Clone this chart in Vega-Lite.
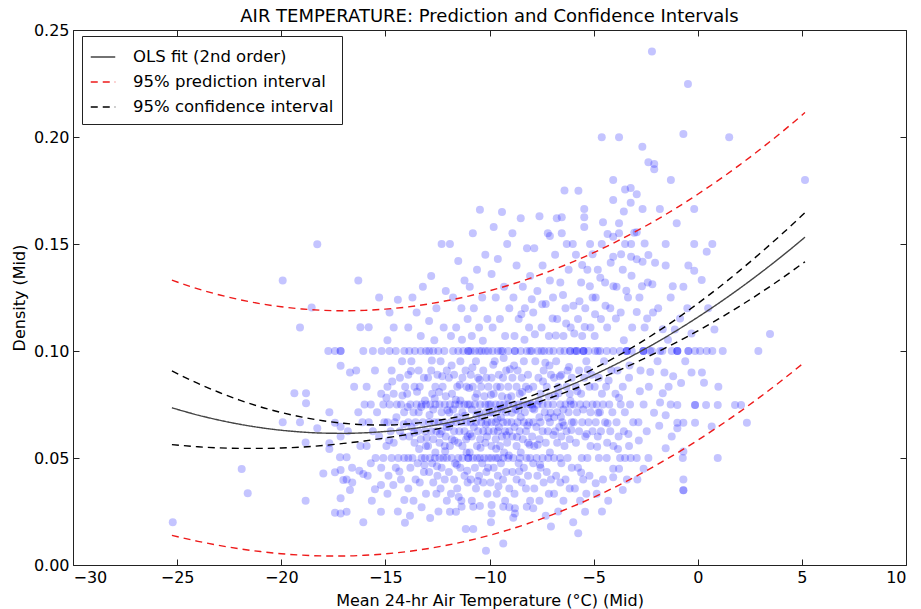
{
  "$schema": "https://vega.github.io/schema/vega-lite/v6.json",
  "width": 833,
  "height": 535,
  "autosize": "none",
  "padding": {"left": 73, "top": 30, "right": 15, "bottom": 44},
  "background": "white",
  "title": {"text": "AIR TEMPERATURE: Prediction and Confidence Intervals", "fontSize": 18, "fontWeight": "normal", "font": "DejaVu Sans", "color": "black", "offset": -4},
  "config": {
    "view": {"stroke": "#222222", "strokeWidth": 1},
    "axis": {"labelFont": "DejaVu Sans", "titleFont": "DejaVu Sans", "labelFontSize": 16, "titleFontSize": 16, "titleFontWeight": "normal", "labelColor": "black", "titleColor": "black", "tickColor": "#222222", "domain": false, "grid": false, "tickSize": -6, "labelPadding": 10}
  },
  "datasets": {
    "pts": [
      {"x":-25.21,"y":0.020},{"x":-21.9,"y":0.0449},{"x":-21.61,"y":0.0335},{"x":-19.93,"y":0.133},{"x":-19.1,"y":0.111},{"x":-18.27,"y":0.1499},{"x":-18.54,"y":0.1203},{"x":-19.37,"y":0.0802},{"x":-18.81,"y":0.0802},{"x":-18.81,"y":0.0756},{"x":-17.74,"y":0.1},{"x":-17.42,"y":0.1},{"x":-17.15,"y":0.1},{"x":-17.15,"y":0.1},{"x":-17.15,"y":0.0931},{"x":-16.7,"y":0.090},{"x":-17.69,"y":0.0714},{"x":-19.93,"y":0.0667},{"x":-19.1,"y":0.0667},{"x":-18.27,"y":0.0639},{"x":-17.15,"y":0.0646},{"x":-17.42,"y":0.0665},{"x":-17.15,"y":0.060},{"x":-18.83,"y":0.0573},{"x":-17.69,"y":0.0569},{"x":-17.69,"y":0.0542},{"x":-17.18,"y":0.0503},{"x":-16.86,"y":0.0503},{"x":-18.83,"y":0.030},{"x":-17.98,"y":0.0428},{"x":-17.42,"y":0.0433},{"x":-17.15,"y":0.0444},{"x":-16.86,"y":0.040},{"x":-17.15,"y":0.0312},{"x":-17.42,"y":0.0244},{"x":-17.15,"y":0.0241},{"x":-16.86,"y":0.0249},{"x":-17.02,"y":0.0397},{"x":-16.59,"y":0.0386},{"x":-16.25,"y":0.0441},{"x":-16.06,"y":0.0425},{"x":-16.06,"y":0.020},{"x":-15.5,"y":0.0354},{"x":-16.06,"y":0.1},{"x":-16.3,"y":0.133},
      {"x":-16.5,"y":0.0833},{"x":-16.3,"y":0.0714},{"x":-16.8,"y":0.0625},{"x":-16.2,"y":0.0556},{"x":-16.1,"y":0.0667},{"x":-16.6,"y":0.0455},{"x":-16.4,"y":0.0909},{"x":-16.7,"y":0.035},{"x":-16.0,"y":0.075},{"x":-16.2,"y":0.1111},
      {"x":-15.18,"y":0.1},{"x":-15.6,"y":0.1},{"x":-15.3,"y":0.125},{"x":-15.8,"y":0.1111},{"x":-15.5,"y":0.0909},{"x":-15.9,"y":0.0833},{"x":-15.2,"y":0.08},{"x":-15.7,"y":0.075},{"x":-15.1,"y":0.075},{"x":-15.4,"y":0.0714},{"x":-15.8,"y":0.0667},{"x":-15.05,"y":0.0667},{"x":-15.6,"y":0.0625},{"x":-15.3,"y":0.06},{"x":-15.9,"y":0.0556},{"x":-15.47,"y":0.05},{"x":-15.1,"y":0.05},{"x":-15.7,"y":0.0476},{"x":-15.2,"y":0.0455},{"x":-15.85,"y":0.0417},{"x":-15.21,"y":0.0374},{"x":-15.21,"y":0.0249},{"x":-15.65,"y":0.03},
      {"x":-14.4,"y":0.124},{"x":-14.8,"y":0.118},{"x":-14.6,"y":0.111},{"x":-14.9,"y":0.105},{"x":-14.09,"y":0.1},{"x":-14.5,"y":0.1},{"x":-14.8,"y":0.1},{"x":-14.2,"y":0.0952},{"x":-14.7,"y":0.0909},{"x":-14.3,"y":0.0875},{"x":-14.9,"y":0.0833},{"x":-14.05,"y":0.0833},{"x":-14.6,"y":0.08},{"x":-14.8,"y":0.075},{"x":-14.25,"y":0.075},{"x":-14.45,"y":0.075},{"x":-14.1,"y":0.0714},{"x":-14.9,"y":0.0667},{"x":-14.55,"y":0.0667},{"x":-14.3,"y":0.0625},{"x":-14.75,"y":0.0625},{"x":-14.15,"y":0.06},{"x":-14.6,"y":0.0571},{"x":-14.95,"y":0.0556},{"x":-14.38,"y":0.05},{"x":-14.7,"y":0.05},{"x":-14.1,"y":0.05},{"x":-14.5,"y":0.0455},{"x":-14.85,"y":0.0417},{"x":-14.25,"y":0.04},{"x":-14.62,"y":0.0374},{"x":-14.9,"y":0.0333},{"x":-14.09,"y":0.0304},{"x":-14.06,"y":0.0198},{"x":-14.4,"y":0.025},
      {"x":-13.2,"y":0.13},{"x":-13.7,"y":0.125},{"x":-13.5,"y":0.118},{"x":-13.9,"y":0.111},{"x":-13.3,"y":0.107},{"x":-13.85,"y":0.1},{"x":-13.58,"y":0.1},{"x":-13.3,"y":0.1},{"x":-13.05,"y":0.1},{"x":-13.75,"y":0.0952},{"x":-13.4,"y":0.0909},{"x":-13.9,"y":0.0889},{"x":-13.15,"y":0.0875},{"x":-13.6,"y":0.0833},{"x":-13.35,"y":0.0833},{"x":-13.95,"y":0.08},{"x":-13.1,"y":0.0769},{"x":-13.8,"y":0.075},{"x":-13.5,"y":0.075},{"x":-13.25,"y":0.075},{"x":-13.05,"y":0.075},{"x":-13.65,"y":0.0714},{"x":-13.4,"y":0.0714},{"x":-13.9,"y":0.0667},{"x":-13.55,"y":0.0667},{"x":-13.2,"y":0.0667},{"x":-13.75,"y":0.0645},{"x":-13.45,"y":0.0625},{"x":-13.1,"y":0.0625},{"x":-13.85,"y":0.06},{"x":-13.3,"y":0.0588},{"x":-13.6,"y":0.0571},{"x":-13.05,"y":0.0556},{"x":-13.26,"y":0.05},{"x":-13.1,"y":0.05},{"x":-13.7,"y":0.05},{"x":-13.9,"y":0.05},{"x":-13.45,"y":0.0476},{"x":-13.8,"y":0.0455},{"x":-13.15,"y":0.0435},{"x":-13.55,"y":0.04},{"x":-13.35,"y":0.0385},{"x":-13.9,"y":0.0357},{"x":-13.05,"y":0.0333},{"x":-13.65,"y":0.03},{"x":-13.26,"y":0.027},{"x":-13.82,"y":0.023},
      {"x":-12.3,"y":0.15},{"x":-12.8,"y":0.135},{"x":-12.1,"y":0.128},{"x":-12.55,"y":0.12},{"x":-12.9,"y":0.114},{"x":-12.2,"y":0.111},{"x":-12.65,"y":0.105},{"x":-12.7,"y":0.1},{"x":-12.46,"y":0.1},{"x":-12.17,"y":0.1},{"x":-12.9,"y":0.1},{"x":-12.35,"y":0.0952},{"x":-12.8,"y":0.0909},{"x":-12.05,"y":0.0909},{"x":-12.5,"y":0.0889},{"x":-12.95,"y":0.0875},{"x":-12.6,"y":0.0833},{"x":-12.25,"y":0.0833},{"x":-12.75,"y":0.08},{"x":-12.1,"y":0.0789},{"x":-12.85,"y":0.075},{"x":-12.6,"y":0.075},{"x":-12.4,"y":0.075},{"x":-12.15,"y":0.075},{"x":-12.7,"y":0.0727},{"x":-12.3,"y":0.0714},{"x":-12.9,"y":0.0667},{"x":-12.65,"y":0.0667},{"x":-12.45,"y":0.0667},{"x":-12.2,"y":0.0667},{"x":-12.05,"y":0.0645},{"x":-12.8,"y":0.0625},{"x":-12.55,"y":0.0625},{"x":-12.3,"y":0.0625},{"x":-12.1,"y":0.06},{"x":-12.7,"y":0.0588},{"x":-12.4,"y":0.0571},{"x":-12.95,"y":0.0556},{"x":-12.15,"y":0.0556},{"x":-12.6,"y":0.0526},{"x":-12.86,"y":0.05},{"x":-12.62,"y":0.05},{"x":-12.22,"y":0.05},{"x":-12.4,"y":0.05},{"x":-12.05,"y":0.05},{"x":-12.75,"y":0.0476},{"x":-12.3,"y":0.0455},{"x":-12.9,"y":0.0435},{"x":-12.5,"y":0.0417},{"x":-12.15,"y":0.04},{"x":-12.7,"y":0.0385},{"x":-12.35,"y":0.0357},{"x":-12.55,"y":0.0333},{"x":-12.05,"y":0.03},{"x":-12.45,"y":0.025},{"x":-12.85,"y":0.022},
      {"x":-11.9,"y":0.15},{"x":-11.5,"y":0.142},{"x":-11.2,"y":0.133},{"x":-11.75,"y":0.125},{"x":-11.35,"y":0.12},{"x":-11.05,"y":0.115},{"x":-11.6,"y":0.111},{"x":-11.85,"y":0.107},{"x":-11.26,"y":0.1},{"x":-11.02,"y":0.1},{"x":-11.02,"y":0.1},{"x":-11.5,"y":0.1},{"x":-11.75,"y":0.1},{"x":-11.4,"y":0.0952},{"x":-11.15,"y":0.0909},{"x":-11.7,"y":0.0889},{"x":-11.3,"y":0.0875},{"x":-11.95,"y":0.0875},{"x":-11.55,"y":0.0833},{"x":-11.1,"y":0.0833},{"x":-11.8,"y":0.08},{"x":-11.4,"y":0.0769},{"x":-11.9,"y":0.075},{"x":-11.65,"y":0.075},{"x":-11.45,"y":0.075},{"x":-11.2,"y":0.075},{"x":-11.05,"y":0.075},{"x":-11.75,"y":0.0727},{"x":-11.3,"y":0.0714},{"x":-11.55,"y":0.069},{"x":-11.85,"y":0.0667},{"x":-11.6,"y":0.0667},{"x":-11.35,"y":0.0667},{"x":-11.1,"y":0.0667},{"x":-11.95,"y":0.0645},{"x":-11.7,"y":0.0625},{"x":-11.45,"y":0.0625},{"x":-11.2,"y":0.0625},{"x":-11.05,"y":0.06},{"x":-11.8,"y":0.0588},{"x":-11.5,"y":0.0571},{"x":-11.3,"y":0.0556},{"x":-11.9,"y":0.0556},{"x":-11.1,"y":0.0526},{"x":-11.82,"y":0.05},{"x":-11.02,"y":0.05},{"x":-11.02,"y":0.05},{"x":-11.5,"y":0.05},{"x":-11.3,"y":0.05},{"x":-11.65,"y":0.0476},{"x":-11.4,"y":0.0455},{"x":-11.95,"y":0.0435},{"x":-11.2,"y":0.0417},{"x":-11.7,"y":0.04},{"x":-11.05,"y":0.0385},{"x":-11.55,"y":0.0357},{"x":-11.85,"y":0.0333},{"x":-11.35,"y":0.03},{"x":-11.34,"y":0.0272},{"x":-11.9,"y":0.0249},{"x":-11.61,"y":0.0249},{"x":-11.14,"y":0.0168},
      {"x":-10.46,"y":0.166},{"x":-10.8,"y":0.155},{"x":-10.2,"y":0.145},{"x":-10.6,"y":0.138},{"x":-10.95,"y":0.13},{"x":-10.35,"y":0.125},{"x":-10.75,"y":0.12},{"x":-10.1,"y":0.115},{"x":-10.5,"y":0.111},{"x":-10.85,"y":0.107},{"x":-10.7,"y":0.1},{"x":-10.38,"y":0.1},{"x":-10.06,"y":0.1},{"x":-10.9,"y":0.1},{"x":-10.5,"y":0.1},{"x":-10.2,"y":0.1},{"x":-10.65,"y":0.0952},{"x":-10.3,"y":0.0909},{"x":-10.9,"y":0.0889},{"x":-10.55,"y":0.0875},{"x":-10.15,"y":0.0875},{"x":-10.8,"y":0.0833},{"x":-10.4,"y":0.0833},{"x":-10.05,"y":0.0833},{"x":-10.6,"y":0.08},{"x":-10.25,"y":0.0789},{"x":-10.95,"y":0.075},{"x":-10.7,"y":0.075},{"x":-10.45,"y":0.075},{"x":-10.2,"y":0.075},{"x":-10.05,"y":0.075},{"x":-10.85,"y":0.0727},{"x":-10.5,"y":0.0714},{"x":-10.15,"y":0.0714},{"x":-10.35,"y":0.069},{"x":-10.9,"y":0.0667},{"x":-10.65,"y":0.0667},{"x":-10.4,"y":0.0667},{"x":-10.1,"y":0.0667},{"x":-10.75,"y":0.0645},{"x":-10.55,"y":0.0625},{"x":-10.3,"y":0.0625},{"x":-10.05,"y":0.0625},{"x":-10.85,"y":0.06},{"x":-10.45,"y":0.0588},{"x":-10.2,"y":0.0571},{"x":-10.6,"y":0.0556},{"x":-10.95,"y":0.0526},{"x":-10.46,"y":0.05},{"x":-10.8,"y":0.05},{"x":-10.25,"y":0.05},{"x":-10.05,"y":0.05},{"x":-10.6,"y":0.05},{"x":-10.35,"y":0.0476},{"x":-10.7,"y":0.0455},{"x":-10.15,"y":0.0435},{"x":-10.5,"y":0.0417},{"x":-10.9,"y":0.04},{"x":-10.3,"y":0.0385},{"x":-10.65,"y":0.0357},{"x":-10.1,"y":0.0333},{"x":-10.85,"y":0.03},{"x":-10.46,"y":0.0276},{"x":-10.78,"y":0.0272},{"x":-10.78,"y":0.0168},{"x":-10.17,"y":0.0067},
      {"x":-9.4,"y":0.165},{"x":-9.8,"y":0.158},{"x":-9.15,"y":0.15},{"x":-9.6,"y":0.143},{"x":-9.9,"y":0.136},{"x":-9.3,"y":0.13},{"x":-9.7,"y":0.125},{"x":-9.05,"y":0.12},{"x":-9.5,"y":0.115},{"x":-9.85,"y":0.111},{"x":-9.25,"y":0.107},{"x":-9.85,"y":0.1},{"x":-9.37,"y":0.1},{"x":-9.1,"y":0.1},{"x":-9.6,"y":0.1},{"x":-9.45,"y":0.1},{"x":-9.75,"y":0.0952},{"x":-9.2,"y":0.0909},{"x":-9.55,"y":0.0889},{"x":-9.9,"y":0.0875},{"x":-9.35,"y":0.0875},{"x":-9.65,"y":0.0833},{"x":-9.1,"y":0.0833},{"x":-9.8,"y":0.08},{"x":-9.4,"y":0.0789},{"x":-9.95,"y":0.075},{"x":-9.7,"y":0.075},{"x":-9.5,"y":0.075},{"x":-9.3,"y":0.075},{"x":-9.1,"y":0.075},{"x":-9.6,"y":0.0727},{"x":-9.85,"y":0.0714},{"x":-9.2,"y":0.0714},{"x":-9.45,"y":0.069},{"x":-9.9,"y":0.0667},{"x":-9.7,"y":0.0667},{"x":-9.35,"y":0.0667},{"x":-9.15,"y":0.0667},{"x":-9.55,"y":0.0645},{"x":-9.8,"y":0.0625},{"x":-9.6,"y":0.0625},{"x":-9.25,"y":0.0625},{"x":-9.05,"y":0.0625},{"x":-9.4,"y":0.06},{"x":-9.7,"y":0.0588},{"x":-9.15,"y":0.0571},{"x":-9.9,"y":0.0556},{"x":-9.5,"y":0.0556},{"x":-9.3,"y":0.0526},{"x":-9.9,"y":0.05},{"x":-9.58,"y":0.05},{"x":-9.34,"y":0.05},{"x":-9.1,"y":0.05},{"x":-9.7,"y":0.05},{"x":-9.45,"y":0.0476},{"x":-9.8,"y":0.0455},{"x":-9.2,"y":0.0435},{"x":-9.6,"y":0.0417},{"x":-9.35,"y":0.04},{"x":-9.95,"y":0.0385},{"x":-9.05,"y":0.0357},{"x":-9.65,"y":0.0333},{"x":-9.25,"y":0.03},{"x":-9.9,"y":0.028},{"x":-9.34,"y":0.0272},{"x":-9.05,"y":0.027},{"x":-9.9,"y":0.0241},{"x":-9.93,"y":0.020},{"x":-9.34,"y":0.0101},
      {"x":-8.5,"y":0.162},{"x":-8.9,"y":0.155},{"x":-8.2,"y":0.148},{"x":-8.7,"y":0.14},{"x":-8.05,"y":0.135},{"x":-8.4,"y":0.13},{"x":-8.85,"y":0.125},{"x":-8.3,"y":0.12},{"x":-8.6,"y":0.115},{"x":-8.1,"y":0.111},{"x":-8.8,"y":0.107},{"x":-8.78,"y":0.1},{"x":-8.78,"y":0.1},{"x":-8.5,"y":0.1},{"x":-8.21,"y":0.1},{"x":-8.05,"y":0.1},{"x":-8.35,"y":0.0952},{"x":-8.65,"y":0.0909},{"x":-8.15,"y":0.0889},{"x":-8.9,"y":0.0875},{"x":-8.45,"y":0.0875},{"x":-8.7,"y":0.0833},{"x":-8.25,"y":0.0833},{"x":-8.55,"y":0.08},{"x":-8.95,"y":0.0789},{"x":-8.85,"y":0.075},{"x":-8.6,"y":0.075},{"x":-8.4,"y":0.075},{"x":-8.2,"y":0.075},{"x":-8.05,"y":0.075},{"x":-8.75,"y":0.0727},{"x":-8.3,"y":0.0714},{"x":-8.5,"y":0.069},{"x":-8.95,"y":0.0667},{"x":-8.65,"y":0.0667},{"x":-8.35,"y":0.0667},{"x":-8.1,"y":0.0667},{"x":-8.8,"y":0.0645},{"x":-8.55,"y":0.0625},{"x":-8.25,"y":0.0625},{"x":-8.9,"y":0.06},{"x":-8.4,"y":0.0588},{"x":-8.15,"y":0.0571},{"x":-8.7,"y":0.0556},{"x":-8.5,"y":0.0526},{"x":-8.86,"y":0.05},{"x":-8.54,"y":0.05},{"x":-8.22,"y":0.05},{"x":-8.05,"y":0.05},{"x":-8.6,"y":0.0476},{"x":-8.35,"y":0.0455},{"x":-8.9,"y":0.0435},{"x":-8.15,"y":0.0417},{"x":-8.7,"y":0.04},{"x":-8.45,"y":0.0385},{"x":-8.25,"y":0.0357},{"x":-8.8,"y":0.0333},{"x":-8.05,"y":0.03},{"x":-8.21,"y":0.0272},{"x":-8.78,"y":0.0265},{"x":-8.78,"y":0.0241},{"x":-8.86,"y":0.0221},
      {"x":-7.6,"y":0.163},{"x":-7.2,"y":0.155},{"x":-7.85,"y":0.148},{"x":-7.45,"y":0.14},{"x":-7.1,"y":0.133},{"x":-7.7,"y":0.128},{"x":-7.3,"y":0.122},{"x":-7.9,"y":0.118},{"x":-7.5,"y":0.111},{"x":-7.15,"y":0.107},{"x":-7.97,"y":0.1},{"x":-7.68,"y":0.1},{"x":-7.37,"y":0.1},{"x":-7.13,"y":0.1},{"x":-7.5,"y":0.1},{"x":-7.8,"y":0.0952},{"x":-7.4,"y":0.0909},{"x":-7.05,"y":0.0889},{"x":-7.65,"y":0.0875},{"x":-7.9,"y":0.0833},{"x":-7.25,"y":0.0833},{"x":-7.55,"y":0.08},{"x":-7.15,"y":0.0789},{"x":-7.95,"y":0.075},{"x":-7.7,"y":0.075},{"x":-7.45,"y":0.075},{"x":-7.2,"y":0.075},{"x":-7.85,"y":0.0727},{"x":-7.35,"y":0.0714},{"x":-7.6,"y":0.069},{"x":-7.9,"y":0.0667},{"x":-7.55,"y":0.0667},{"x":-7.1,"y":0.0667},{"x":-7.75,"y":0.0645},{"x":-7.45,"y":0.0625},{"x":-7.2,"y":0.0625},{"x":-7.95,"y":0.06},{"x":-7.6,"y":0.0588},{"x":-7.3,"y":0.0571},{"x":-7.85,"y":0.0556},{"x":-7.1,"y":0.0526},{"x":-7.74,"y":0.05},{"x":-7.18,"y":0.05},{"x":-7.45,"y":0.05},{"x":-7.9,"y":0.0476},{"x":-7.55,"y":0.0455},{"x":-7.25,"y":0.0435},{"x":-7.7,"y":0.0417},{"x":-7.05,"y":0.04},{"x":-7.4,"y":0.0385},{"x":-7.85,"y":0.0357},{"x":-7.15,"y":0.0333},{"x":-7.6,"y":0.03},{"x":-7.9,"y":0.0265},{"x":-7.3,"y":0.023},{"x":-7.05,"y":0.018},{"x":-7.1,"y":0.1537},
      {"x":-6.4,"y":0.175},{"x":-6.77,"y":0.162},{"x":-6.53,"y":0.1625},{"x":-6.53,"y":0.155},{"x":-6.29,"y":0.15},{"x":-6.0,"y":0.15},{"x":-6.85,"y":0.145},{"x":-6.2,"y":0.138},{"x":-6.6,"y":0.132},{"x":-6.95,"y":0.125},{"x":-6.35,"y":0.12},{"x":-6.75,"y":0.115},{"x":-6.1,"y":0.111},{"x":-6.45,"y":0.107},{"x":-6.93,"y":0.1},{"x":-6.61,"y":0.1},{"x":-6.4,"y":0.1},{"x":-6.13,"y":0.1},{"x":-6.13,"y":0.1},{"x":-6.8,"y":0.0952},{"x":-6.25,"y":0.0909},{"x":-6.55,"y":0.0889},{"x":-6.9,"y":0.0875},{"x":-6.05,"y":0.0875},{"x":-6.7,"y":0.0833},{"x":-6.3,"y":0.0833},{"x":-6.15,"y":0.08},{"x":-6.85,"y":0.0789},{"x":-6.95,"y":0.075},{"x":-6.6,"y":0.075},{"x":-6.35,"y":0.075},{"x":-6.1,"y":0.075},{"x":-6.45,"y":0.0727},{"x":-6.75,"y":0.0714},{"x":-6.2,"y":0.0714},{"x":-6.9,"y":0.069},{"x":-6.5,"y":0.0667},{"x":-6.05,"y":0.0667},{"x":-6.65,"y":0.0645},{"x":-6.85,"y":0.0625},{"x":-6.3,"y":0.0625},{"x":-6.55,"y":0.06},{"x":-6.15,"y":0.0588},{"x":-6.75,"y":0.0571},{"x":-6.4,"y":0.0556},{"x":-6.61,"y":0.05},{"x":-6.9,"y":0.05},{"x":-6.25,"y":0.05},{"x":-6.55,"y":0.0476},{"x":-6.05,"y":0.0455},{"x":-6.8,"y":0.0417},{"x":-6.35,"y":0.04},{"x":-6.6,"y":0.0385},{"x":-6.15,"y":0.0357},{"x":-6.9,"y":0.0333},{"x":-6.45,"y":0.03},{"x":-5.98,"y":0.02},{"x":-6.7,"y":0.025},
      {"x":-5.73,"y":0.1749},{"x":-5.45,"y":0.1664},{"x":-5.45,"y":0.1625},{"x":-5.45,"y":0.158},{"x":-5.17,"y":0.15},{"x":-5.85,"y":0.145},{"x":-5.3,"y":0.138},{"x":-5.6,"y":0.132},{"x":-5.05,"y":0.125},{"x":-5.4,"y":0.12},{"x":-5.75,"y":0.115},{"x":-5.15,"y":0.111},{"x":-5.55,"y":0.107},{"x":-5.81,"y":0.1},{"x":-5.81,"y":0.1},{"x":-5.49,"y":0.1},{"x":-5.49,"y":0.1},{"x":-5.49,"y":0.1},{"x":-5.25,"y":0.1},{"x":-5.9,"y":0.1},{"x":-5.35,"y":0.0952},{"x":-5.7,"y":0.0909},{"x":-5.1,"y":0.0889},{"x":-5.45,"y":0.0875},{"x":-5.85,"y":0.0833},{"x":-5.2,"y":0.0833},{"x":-5.6,"y":0.08},{"x":-5.95,"y":0.075},{"x":-5.65,"y":0.075},{"x":-5.35,"y":0.075},{"x":-5.05,"y":0.075},{"x":-5.5,"y":0.0727},{"x":-5.8,"y":0.0714},{"x":-5.15,"y":0.0714},{"x":-5.95,"y":0.0667},{"x":-5.55,"y":0.0667},{"x":-5.25,"y":0.0667},{"x":-5.7,"y":0.0625},{"x":-5.05,"y":0.0625},{"x":-5.4,"y":0.06},{"x":-5.85,"y":0.0571},{"x":-5.15,"y":0.0556},{"x":-5.57,"y":0.05},{"x":-5.3,"y":0.05},{"x":-5.75,"y":0.0455},{"x":-5.2,"y":0.0417},{"x":-5.5,"y":0.04},{"x":-5.9,"y":0.0357},{"x":-5.35,"y":0.0333},{"x":-5.65,"y":0.03},{"x":-5.41,"y":0.0249},{"x":-5.74,"y":0.0148},
      {"x":-4.61,"y":0.1999},{"x":-4.06,"y":0.1799},{"x":-4.06,"y":0.1706},{"x":-4.33,"y":0.1547},{"x":-4.06,"y":0.1534},{"x":-4.61,"y":0.15},{"x":-4.06,"y":0.1441},{"x":-4.8,"y":0.138},{"x":-4.45,"y":0.132},{"x":-4.9,"y":0.125},{"x":-4.2,"y":0.12},{"x":-4.65,"y":0.115},{"x":-4.35,"y":0.111},{"x":-4.95,"y":0.107},{"x":-4.93,"y":0.1},{"x":-4.69,"y":0.1},{"x":-4.37,"y":0.1},{"x":-4.06,"y":0.1},{"x":-4.8,"y":0.1},{"x":-4.5,"y":0.0952},{"x":-4.15,"y":0.0909},{"x":-4.75,"y":0.0875},{"x":-4.4,"y":0.0833},{"x":-4.95,"y":0.0833},{"x":-4.6,"y":0.08},{"x":-4.85,"y":0.075},{"x":-4.55,"y":0.075},{"x":-4.25,"y":0.075},{"x":-4.7,"y":0.0714},{"x":-4.1,"y":0.0714},{"x":-4.9,"y":0.0667},{"x":-4.45,"y":0.0667},{"x":-4.65,"y":0.0625},{"x":-4.2,"y":0.0625},{"x":-4.8,"y":0.06},{"x":-4.35,"y":0.0571},{"x":-4.05,"y":0.0556},{"x":-4.37,"y":0.05},{"x":-4.75,"y":0.05},{"x":-4.06,"y":0.045},{"x":-4.06,"y":0.041},{"x":-4.55,"y":0.04},{"x":-4.85,"y":0.0333},{"x":-4.3,"y":0.03},{"x":-4.6,"y":0.025},
      {"x":-3.78,"y":0.1999},{"x":-3.49,"y":0.1755},{"x":-3.22,"y":0.1762},{"x":-3.22,"y":0.1693},{"x":-3.78,"y":0.1597},{"x":-3.78,"y":0.155},{"x":-3.49,"y":0.15},{"x":-3.2,"y":0.15},{"x":-3.2,"y":0.1441},{"x":-3.6,"y":0.138},{"x":-3.9,"y":0.13},{"x":-3.35,"y":0.125},{"x":-3.7,"y":0.118},{"x":-3.15,"y":0.111},{"x":-3.55,"y":0.105},{"x":-3.73,"y":0.1},{"x":-3.41,"y":0.1},{"x":-3.41,"y":0.1},{"x":-3.41,"y":0.1},{"x":-3.17,"y":0.1},{"x":-3.85,"y":0.0909},{"x":-3.3,"y":0.0875},{"x":-3.6,"y":0.0833},{"x":-3.95,"y":0.08},{"x":-3.7,"y":0.075},{"x":-3.25,"y":0.075},{"x":-3.5,"y":0.0714},{"x":-3.9,"y":0.0667},{"x":-3.1,"y":0.0667},{"x":-3.55,"y":0.0625},{"x":-3.8,"y":0.06},{"x":-3.3,"y":0.0556},{"x":-3.73,"y":0.05},{"x":-3.49,"y":0.05},{"x":-3.22,"y":0.05},{"x":-3.78,"y":0.045},{"x":-3.4,"y":0.04},{"x":-3.6,"y":0.035},
      {"x":-2.2,"y":0.24},{"x":-2.66,"y":0.1955},{"x":-2.37,"y":0.1882},{"x":-2.09,"y":0.1874},{"x":-2.09,"y":0.1849},{"x":-2.93,"y":0.1732},{"x":-2.65,"y":0.1664},{"x":-2.93,"y":0.1555},{"x":-2.37,"y":0.1449},{"x":-2.93,"y":0.1429},{"x":-2.65,"y":0.1417},{"x":-2.4,"y":0.132},{"x":-2.8,"y":0.125},{"x":-2.15,"y":0.118},{"x":-2.55,"y":0.111},{"x":-2.61,"y":0.1},{"x":-2.61,"y":0.1},{"x":-2.61,"y":0.1},{"x":-2.29,"y":0.1},{"x":-2.2,"y":0.1},{"x":-2.75,"y":0.0909},{"x":-2.35,"y":0.0833},{"x":-2.1,"y":0.0712},{"x":-2.6,"y":0.075},{"x":-2.85,"y":0.0667},{"x":-2.45,"y":0.0625},{"x":-2.93,"y":0.05},{"x":-2.37,"y":0.05},{"x":-2.6,"y":0.045},{"x":-2.9,"y":0.04},
      {"x":-1.82,"y":0.1664},{"x":-1.54,"y":0.15},{"x":-1.54,"y":0.1399},{"x":-1.29,"y":0.1799},{"x":-1.01,"y":0.1597},{"x":-1.81,"y":0.1},{"x":-1.25,"y":0.1},{"x":-1.7,"y":0.1},{"x":-1.81,"y":0.0759},{"x":-1.85,"y":0.0651},{"x":-1.54,"y":0.070},{"x":-1.54,"y":0.0545},{"x":-1.25,"y":0.060},{"x":-1.4,"y":0.0833},{"x":-1.6,"y":0.09},{"x":-1.9,"y":0.12},{"x":-1.3,"y":0.125},{"x":-1.1,"y":0.11},{"x":-1.3,"y":0.075},
      {"x":-0.69,"y":0.2014},{"x":-0.47,"y":0.2248},{"x":-0.17,"y":0.1664},{"x":-0.17,"y":0.15},{"x":-0.45,"y":0.1399},{"x":-0.17,"y":0.1375},{"x":-0.69,"y":0.130},{"x":-0.98,"y":0.1},{"x":-0.98,"y":0.1},{"x":-0.98,"y":0.1},{"x":-0.45,"y":0.1},{"x":-0.45,"y":0.1},{"x":-0.13,"y":0.1},{"x":-0.98,"y":0.0748},{"x":-0.13,"y":0.0748},{"x":-0.13,"y":0.0748},{"x":-0.13,"y":0.0665},{"x":-0.69,"y":0.0665},{"x":-0.98,"y":0.0665},{"x":-0.98,"y":0.0639},{"x":-0.69,"y":0.053},{"x":-0.72,"y":0.05},{"x":-0.69,"y":0.040},{"x":-0.69,"y":0.0349},{"x":-0.69,"y":0.0349},{"x":-0.5,"y":0.12},{"x":-0.3,"y":0.09},{"x":-0.8,"y":0.085},
      {"x":0.11,"y":0.1},{"x":0.43,"y":0.1},{"x":0.7,"y":0.1},{"x":0.7,"y":0.15},{"x":0.43,"y":0.1464},{"x":0.19,"y":0.1332},{"x":1.51,"y":0.1999},{"x":5.15,"y":0.1799},{"x":2.91,"y":0.1},{"x":3.47,"y":0.108},{"x":0.96,"y":0.0748},{"x":0.4,"y":0.0748},{"x":1.79,"y":0.0748},{"x":2.08,"y":0.0748},{"x":0.67,"y":0.0647},{"x":0.99,"y":0.0833},{"x":2.36,"y":0.0665},{"x":0.96,"y":0.05},{"x":0.2,"y":0.09},{"x":1.2,"y":0.1},{"x":0.5,"y":0.12},{"x":0.8,"y":0.11},
      {"x":-14.82,"y":0.0583},{"x":-14.47,"y":0.0691},{"x":-14.18,"y":0.0792},{"x":-13.93,"y":0.0738},{"x":-13.62,"y":0.0618},{"x":-13.38,"y":0.0542},{"x":-13.12,"y":0.0467},{"x":-12.88,"y":0.0701},{"x":-12.63,"y":0.0778},{"x":-12.38,"y":0.0612},{"x":-12.13,"y":0.0531},{"x":-14.67,"y":0.0858},{"x":-14.33,"y":0.0437},{"x":-13.77,"y":0.0907},{"x":-13.48,"y":0.0809},{"x":-13.02,"y":0.0594},{"x":-12.77,"y":0.0956},{"x":-12.52,"y":0.0462},{"x":-12.27,"y":0.0882},{"x":-12.02,"y":0.0723},{"x":-14.95,"y":0.0781},{"x":-14.12,"y":0.0658},{"x":-13.28,"y":0.0738},{"x":-12.42,"y":0.0808},
      {"x":-11.93,"y":0.0713},{"x":-11.68,"y":0.0581},{"x":-11.43,"y":0.0842},{"x":-11.18,"y":0.0698},{"x":-10.93,"y":0.0612},{"x":-10.68,"y":0.0783},{"x":-10.43,"y":0.0548},{"x":-10.18,"y":0.0656},{"x":-9.93,"y":0.0795},{"x":-9.68,"y":0.0543},{"x":-9.43,"y":0.0728},{"x":-9.18,"y":0.0606},{"x":-11.82,"y":0.0932},{"x":-11.57,"y":0.0468},{"x":-11.32,"y":0.1052},{"x":-11.07,"y":0.0441},{"x":-10.82,"y":0.0923},{"x":-10.57,"y":0.0392},{"x":-10.32,"y":0.1048},{"x":-10.07,"y":0.0455},{"x":-9.82,"y":0.0936},{"x":-9.57,"y":0.0368},{"x":-9.32,"y":0.0967},{"x":-9.07,"y":0.0512},{"x":-11.62,"y":0.0772},{"x":-11.12,"y":0.0588},{"x":-10.62,"y":0.0702},{"x":-10.12,"y":0.0601},{"x":-9.62,"y":0.0682},{"x":-9.12,"y":0.0781},{"x":-11.48,"y":0.0318},{"x":-10.98,"y":0.0827},{"x":-10.48,"y":0.0866},{"x":-9.98,"y":0.0712},{"x":-9.48,"y":0.0832},{"x":-9.02,"y":0.0915},
      {"x":-8.93,"y":0.0712},{"x":-8.68,"y":0.0598},{"x":-8.43,"y":0.0808},{"x":-8.18,"y":0.0652},{"x":-7.93,"y":0.0731},{"x":-7.68,"y":0.0562},{"x":-7.43,"y":0.0858},{"x":-7.18,"y":0.0688},{"x":-6.93,"y":0.0607},{"x":-6.68,"y":0.0802},{"x":-6.43,"y":0.0652},{"x":-6.18,"y":0.0925},{"x":-8.82,"y":0.0932},{"x":-8.57,"y":0.0438},{"x":-8.32,"y":0.1052},{"x":-8.07,"y":0.0562},{"x":-7.82,"y":0.1078},{"x":-7.57,"y":0.0468},{"x":-7.32,"y":0.0945},{"x":-7.07,"y":0.0712},{"x":-6.82,"y":0.1072},{"x":-6.57,"y":0.0692},{"x":-6.32,"y":0.1128},{"x":-6.07,"y":0.0631},{"x":-8.62,"y":0.0722},{"x":-8.12,"y":0.0822},{"x":-7.62,"y":0.0768},{"x":-7.12,"y":0.0932},{"x":-6.62,"y":0.0882},{"x":-6.12,"y":0.0768},{"x":-8.47,"y":0.1172},{"x":-7.97,"y":0.1242},{"x":-7.47,"y":0.1218},{"x":-6.97,"y":0.1152},{"x":-6.47,"y":0.1262},{"x":-5.97,"y":0.1212},
      {"x":-5.93,"y":0.1082},{"x":-5.68,"y":0.1232},{"x":-5.43,"y":0.1112},{"x":-5.18,"y":0.1302},{"x":-4.93,"y":0.1172},{"x":-4.68,"y":0.1342},{"x":-4.43,"y":0.1212},{"x":-4.18,"y":0.1412},{"x":-3.93,"y":0.1152},{"x":-3.68,"y":0.1452},{"x":-3.43,"y":0.1282},{"x":-3.18,"y":0.1352},{"x":-2.93,"y":0.1182},{"x":-2.68,"y":0.1302},{"x":-2.43,"y":0.1152},{"x":-2.18,"y":0.1312},{"x":-5.78,"y":0.0812},{"x":-5.28,"y":0.0912},{"x":-4.78,"y":0.0712},{"x":-4.28,"y":0.0862},{"x":-3.78,"y":0.0782},{"x":-3.28,"y":0.0932},{"x":-2.78,"y":0.0812},{"x":-2.28,"y":0.0902},{"x":-5.55,"y":0.1402},{"x":-5.05,"y":0.1452},{"x":-4.55,"y":0.1602},{"x":-4.05,"y":0.1302},{"x":-3.55,"y":0.1652},{"x":-3.05,"y":0.1552},{"x":-2.55,"y":0.1502},{"x":-2.05,"y":0.1412},{"x":-5.33,"y":0.0612},{"x":-4.83,"y":0.0552},{"x":-4.33,"y":0.0662},{"x":-3.83,"y":0.0542},{"x":-3.33,"y":0.0612},{"x":-2.83,"y":0.0582},{"x":-5.6,"y":0.0432},{"x":-4.9,"y":0.0382},
      {"x":-1.93,"y":0.0952},{"x":-1.68,"y":0.1102},{"x":-1.43,"y":0.1052},{"x":-1.18,"y":0.0882},{"x":-1.68,"y":0.0802},{"x":-1.2,"y":0.1302},{"x":-0.85,"y":0.1152},{"x":-0.6,"y":0.0952},{"x":-0.3,"y":0.1082},{"x":0.3,"y":0.0852}
    ],
    "lines": [
      {"x":-25.25,"fit":0.07347,"cl":0.05627,"cu":0.09067,"pl":0.01384,"pu":0.13310},
      {"x":-24,"fit":0.07005,"cl":0.05525,"cu":0.08485,"pl":0.01107,"pu":0.12903},
      {"x":-23,"fit":0.06773,"cl":0.05473,"cu":0.08073,"pl":0.00917,"pu":0.12629},
      {"x":-22,"fit":0.06578,"cl":0.05448,"cu":0.07708,"pl":0.00757,"pu":0.12399},
      {"x":-21,"fit":0.06419,"cl":0.05449,"cu":0.07389,"pl":0.00628,"pu":0.12210},
      {"x":-20,"fit":0.06297,"cl":0.05467,"cu":0.07127,"pl":0.00527,"pu":0.12067},
      {"x":-19,"fit":0.06212,"cl":0.05512,"cu":0.06912,"pl":0.00460,"pu":0.11964},
      {"x":-18,"fit":0.06163,"cl":0.05583,"cu":0.06743,"pl":0.00424,"pu":0.11902},
      {"x":-17,"fit":0.06152,"cl":0.05682,"cu":0.06622,"pl":0.00423,"pu":0.11881},
      {"x":-16,"fit":0.06177,"cl":0.05797,"cu":0.06557,"pl":0.00455,"pu":0.11899},
      {"x":-15,"fit":0.06239,"cl":0.05939,"cu":0.06539,"pl":0.00521,"pu":0.11957},
      {"x":-14,"fit":0.06337,"cl":0.06087,"cu":0.06587,"pl":0.00622,"pu":0.12052},
      {"x":-13,"fit":0.06473,"cl":0.06263,"cu":0.06683,"pl":0.00760,"pu":0.12186},
      {"x":-12,"fit":0.06646,"cl":0.06456,"cu":0.06836,"pl":0.00933,"pu":0.12359},
      {"x":-11,"fit":0.06854,"cl":0.06674,"cu":0.07034,"pl":0.01141,"pu":0.12567},
      {"x":-10,"fit":0.07100,"cl":0.06920,"cu":0.07280,"pl":0.01387,"pu":0.12813},
      {"x":-9,"fit":0.07383,"cl":0.07193,"cu":0.07573,"pl":0.01670,"pu":0.13096},
      {"x":-8,"fit":0.07701,"cl":0.07501,"cu":0.07901,"pl":0.01988,"pu":0.13414},
      {"x":-7,"fit":0.08058,"cl":0.07838,"cu":0.08278,"pl":0.02344,"pu":0.13772},
      {"x":-6,"fit":0.08451,"cl":0.08201,"cu":0.08701,"pl":0.02736,"pu":0.14166},
      {"x":-5,"fit":0.08880,"cl":0.08590,"cu":0.09170,"pl":0.03163,"pu":0.14597},
      {"x":-4,"fit":0.09346,"cl":0.09006,"cu":0.09686,"pl":0.03626,"pu":0.15066},
      {"x":-3,"fit":0.09849,"cl":0.09449,"cu":0.10249,"pl":0.04125,"pu":0.15573},
      {"x":-2,"fit":0.10390,"cl":0.09920,"cu":0.10860,"pl":0.04661,"pu":0.16119},
      {"x":-1,"fit":0.10965,"cl":0.10415,"cu":0.11515,"pl":0.05229,"pu":0.16701},
      {"x":0,"fit":0.11579,"cl":0.10939,"cu":0.12219,"pl":0.05833,"pu":0.17325},
      {"x":1,"fit":0.12229,"cl":0.11499,"cu":0.12959,"pl":0.06473,"pu":0.17985},
      {"x":2,"fit":0.12916,"cl":0.12086,"cu":0.13746,"pl":0.07146,"pu":0.18686},
      {"x":3,"fit":0.13640,"cl":0.12710,"cu":0.14570,"pl":0.07855,"pu":0.19425},
      {"x":4,"fit":0.14400,"cl":0.13370,"cu":0.15430,"pl":0.08598,"pu":0.20202},
      {"x":5,"fit":0.15197,"cl":0.14067,"cu":0.16327,"pl":0.09376,"pu":0.21018},
      {"x":5.15,"fit":0.15320,"cl":0.14170,"cu":0.16470,"pl":0.09496,"pu":0.21144}
    ]
  },
  "layer": [
    {
      "data": {"name": "pts"},
      "mark": {"type": "circle", "size": 64, "color": "#0000ff", "opacity": 0.23, "strokeWidth": 0},
      "encoding": {
        "x": {"field": "x", "type": "quantitative", "scale": {"domain": [-30, 10], "nice": false, "zero": false}, "axis": {"orient": "bottom", "values": [-30, -25, -20, -15, -10, -5, 0, 5, 10], "format": "d", "title": "Mean 24-hr Air Temperature (°C) (Mid)", "titlePadding": 7}},
        "y": {"field": "y", "type": "quantitative", "scale": {"domain": [0, 0.25], "nice": false, "zero": false}, "axis": {"orient": "left", "values": [0, 0.05, 0.1, 0.15, 0.2, 0.25], "format": ".2f", "title": "Density (Mid)", "titlePadding": 6}}
      }
    },
    {
      "data": {"name": "lines"},
      "transform": [{"fold": ["fit", "pu", "cu", "pl", "cl"], "as": ["key", "val"]}],
      "mark": {"type": "line", "strokeWidth": 1.4, "interpolate": "monotone"},
      "encoding": {
        "x": {"field": "x", "type": "quantitative", "axis": {"orient": "top", "labels": false, "title": null, "values": [-30, -25, -20, -15, -10, -5, 0, 5, 10]}},
        "y": {"field": "val", "type": "quantitative", "axis": {"orient": "right", "labels": false, "title": null, "values": [0, 0.05, 0.1, 0.15, 0.2, 0.25]}},
        "color": {"field": "key", "type": "nominal", "scale": {"domain": ["fit", "pu", "cu", "pl", "cl"], "range": ["#444444", "#ee1a1a", "#000000", "#ee1a1a", "#000000"]},
          "legend": {"values": ["fit", "pu", "cu"], "title": null, "orient": "none", "legendX": 9, "legendY": 6, "labelExpr": "datum.label == 'fit' ? 'OLS fit (2nd order)' : datum.label == 'pu' ? '95% prediction interval' : '95% confidence interval'", "labelFont": "DejaVu Sans", "labelFontSize": 16.5, "labelLimit": 0, "labelColor": "black", "symbolType": "stroke", "symbolSize": 600, "symbolStrokeWidth": 1.4, "labelOffset": 17, "rowPadding": 3, "padding": 8, "fillColor": "white", "strokeColor": "#222222", "cornerRadius": 0}},
        "strokeDash": {"field": "key", "type": "nominal", "scale": {"domain": ["fit", "pu", "cu", "pl", "cl"], "range": [[1, 0], [7, 5], [7, 5], [7, 5], [7, 5]]},
          "legend": {"values": ["fit", "pu", "cu"], "title": null, "orient": "none", "legendX": 9, "legendY": 6, "labelExpr": "datum.label == 'fit' ? 'OLS fit (2nd order)' : datum.label == 'pu' ? '95% prediction interval' : '95% confidence interval'", "labelFont": "DejaVu Sans", "labelFontSize": 16.5, "labelLimit": 0, "labelColor": "black", "symbolType": "stroke", "symbolSize": 600, "symbolStrokeWidth": 1.4, "labelOffset": 17, "rowPadding": 3, "padding": 8, "fillColor": "white", "strokeColor": "#222222", "cornerRadius": 0}}
      }
    }
  ],
  "resolve": {"axis": {"x": "independent", "y": "independent"}}
}
